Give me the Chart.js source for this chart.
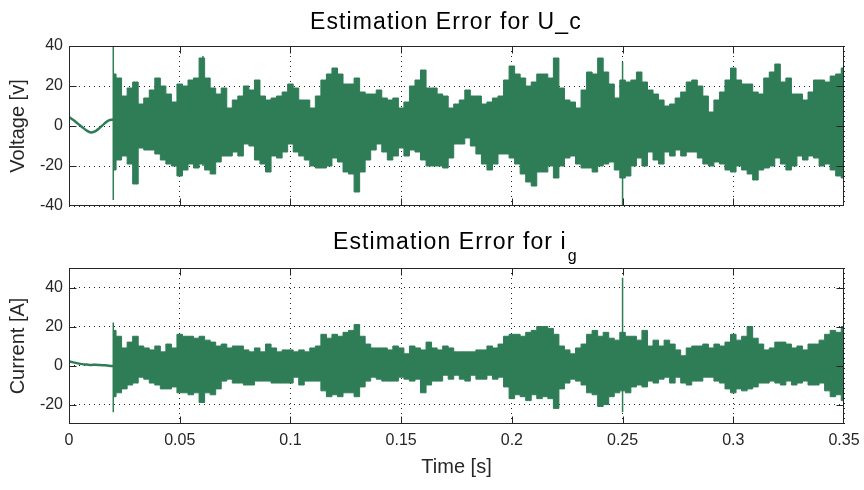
<!DOCTYPE html>
<html><head><meta charset="utf-8">
<script src="https://cdn.jsdelivr.net/npm/chart.js@4.4.1/dist/chart.umd.min.js"></script>
<style>
html,body{margin:0;padding:0;background:#fff;}
#wrap{position:relative;width:864px;height:490px;background:#fff;}
canvas{position:absolute;left:0;top:0;}
</style></head><body>
<div id="wrap"><canvas id="c1" width="864" height="490"></canvas><canvas id="c2" width="864" height="490"></canvas></div>
<script>
// ---------- data ----------
const xTicks = [0, 0.05, 0.1, 0.15, 0.2, 0.25, 0.3, 0.35];
const uTicks = [-40, -20, 0, 20, 40];
const iTicks = [-20, 0, 20, 40];

// envelope samples of the noisy part: start time and sample spacing (s)
const burstStart = 0.02;
const burstStep = 0.0025;

// U_c estimation error: upper / lower envelope
const uUpper = [26,24,15,19,22,11,14,18,24,20,
 16,12,21,20,23,24,34,24,19,16,
 19,9,13,15,20,18,23,15,13,14,
 15,17,21,19,13,13,9,15,23,26,
 29,26,21,21,24,17,16,16,18,14,
 13,14,9,12,20,23,28,19,19,16,
 15,9,11,13,18,15,15,11,12,14,
 15,23,30,26,24,20,22,26,26,24,
 34,19,13,12,9,18,27,26,34,27,
 21,14,23,22,23,27,22,18,16,13,
 10,11,14,17,22,23,20,15,7,13,
 17,23,29,23,21,21,17,16,24,27,
 31,22,24,16,16,13,17,23,23,22,
 25,26,29];
const uLower = [-22,-17,-15,-19,-29,-11,-12,-12,-14,-17,
 -19,-20,-25,-22,-19,-21,-19,-22,-24,-18,
 -15,-15,-13,-15,-9,-10,-17,-19,-23,-15,
 -16,-13,-9,-13,-15,-17,-20,-21,-21,-20,
 -16,-18,-23,-24,-33,-23,-17,-12,-9,-13,
 -17,-15,-11,-15,-12,-13,-17,-20,-20,-20,
 -21,-16,-9,-9,-6,-10,-14,-19,-22,-19,
 -14,-14,-16,-19,-24,-28,-30,-23,-23,-20,
 -26,-20,-16,-15,-19,-21,-21,-23,-20,-19,
 -18,-22,-26,-25,-20,-16,-20,-13,-17,-19,
 -13,-15,-12,-15,-13,-13,-16,-19,-20,-18,
 -19,-22,-23,-20,-22,-24,-27,-22,-21,-20,
 -16,-19,-22,-20,-15,-17,-15,-16,-20,-19,
 -22,-25,-26];
// smooth start (before the noise begins)
const uStartT = [0, 0.002, 0.004, 0.006, 0.008, 0.010, 0.012, 0.014, 0.016, 0.018, 0.02];
const uStartV = [4.5, 3, 1.2, -0.6, -2.3, -3.2, -2.6, -0.8, 1.2, 2.8, 3.2];
// isolated spikes
const uSpikeT = [0.02, 0.0605, 0.25];
const uSpikeHi = [40, 35, 32];
const uSpikeLo = [-37, -20, -40];

// i_g estimation error: upper / lower envelope
const iUpper = [18,15,9,12,15,10,9,8,10,7,
 11,9,16,15,15,14,15,13,12,10,
 11,9,10,10,8,7,9,7,11,9,
 7,8,8,7,8,7,9,10,16,14,
 16,15,17,18,21,15,11,9,9,9,
 8,10,9,6,10,9,8,12,9,8,
 10,9,7,7,7,7,8,8,10,9,
 11,15,16,16,15,17,18,20,20,19,
 16,10,8,6,9,11,16,18,15,17,
 14,13,17,15,15,13,18,10,13,10,
 13,11,8,5,9,10,10,11,9,11,
 10,12,16,13,15,20,14,11,8,9,
 12,12,11,9,10,8,11,11,13,16,
 18,17,20];
const iLower = [-16,-14,-12,-10,-9,-6,-7,-9,-10,-12,
 -12,-11,-14,-14,-15,-14,-19,-14,-15,-12,
 -8,-7,-9,-9,-10,-10,-8,-8,-8,-9,
 -9,-9,-9,-6,-10,-8,-8,-8,-13,-16,
 -15,-16,-14,-14,-16,-11,-8,-6,-7,-8,
 -8,-8,-6,-7,-8,-7,-14,-10,-8,-8,
 -5,-7,-5,-7,-8,-5,-7,-7,-5,-7,
 -6,-11,-17,-15,-16,-18,-15,-17,-16,-17,
 -22,-12,-9,-7,-8,-10,-14,-15,-21,-20,
 -16,-14,-13,-14,-11,-10,-11,-8,-9,-7,
 -6,-9,-6,-9,-10,-8,-8,-6,-6,-8,
 -9,-12,-14,-12,-13,-12,-11,-9,-9,-8,
 -9,-10,-8,-10,-9,-8,-10,-10,-9,-13,
 -16,-15,-18];
const iStartT = [0, 0.002, 0.004, 0.006, 0.008, 0.010, 0.012, 0.014, 0.016, 0.018, 0.02];
const iStartV = [2.2, 1.6, 1.1, 0.7, 0.5, 0.3, 0.4, 0.2, 0.1, -0.1, -0.3];
const iSpikeT = [0.02, 0.25];
const iSpikeHi = [22, 45];
const iSpikeLo = [-24, -24];

// ---------- styling ----------
const GREEN = '#2e7d57';
const FONT = '"Liberation Sans", Arial, Helvetica, sans-serif';
const TXT = '#262626';

function envPoints(vals){ return vals.map((v,k)=>({x: burstStart + k*burstStep, y: v})); }
function pairPoints(ts, vs){ return ts.map((t,k)=>({x:t, y:vs[k]})); }
function spikePoints(ts, hi, lo){
  const out=[]; ts.forEach((t,k)=>{ out.push({x:t,y:lo[k]},{x:t,y:hi[k]},{x:t,y:null}); }); return out;
}
function fmt(v){ return String(Math.round(v*100)/100); }

const framePlugin = {
  id: 'frame',
  afterDatasetsDraw(chart){
    const {ctx, chartArea:{left,right,top,bottom}, scales:{x,y}} = chart;
    const L=Math.round(left)+0.5, R=Math.round(right)-0.5, T=Math.round(top)+0.5, B=Math.round(bottom)-0.5;
    ctx.save();
    ctx.setLineDash([]);
    ctx.strokeStyle = '#262626';
    ctx.lineWidth = 1;
    const tl = 7;
    ctx.beginPath();
    x.ticks.forEach(t=>{ const px=Math.round(x.getPixelForValue(t.value))+0.5;
      if (px<=L+1||px>=R-1) return;
      ctx.moveTo(px,B); ctx.lineTo(px,B-tl); ctx.moveTo(px,T); ctx.lineTo(px,T+tl); });
    y.ticks.forEach(t=>{ const py=Math.round(y.getPixelForValue(t.value))+0.5;
      if (py<=T+1||py>=B-1) return;
      ctx.moveTo(L,py); ctx.lineTo(L+tl,py); ctx.moveTo(R,py); ctx.lineTo(R-tl,py); });
    ctx.stroke();
    ctx.strokeRect(L, T, R-L, B-T);
    ctx.restore();
  },
  afterDraw(chart, args, opts){
    if(!opts || !opts.text) return;
    const ctx = chart.ctx;
    ctx.save();
    ctx.fillStyle = '#000';
    ctx.textAlign = 'left';
    ctx.textBaseline = 'alphabetic';
    ctx.font = '23px ' + FONT;
    ctx.letterSpacing = '1.1px';
    ctx.fillText(opts.text, opts.x, opts.y);
    if (opts.sub){
      const w = ctx.measureText(opts.text).width;
      ctx.font = '16px ' + FONT;
      ctx.letterSpacing = '0px';
      ctx.fillText(opts.sub, opts.x + w + 1, opts.y + 12);
    }
    ctx.restore();
  }
};

function makeChart(id, cfg){
  const yTicks = cfg.yTicks;
  return new Chart(document.getElementById(id), {
    type: 'line',
    data: { datasets: [
      { data: envPoints(cfg.upper), borderColor: GREEN, backgroundColor: GREEN, borderWidth: 1, pointRadius: 0, fill: '+1', stepped: 'middle' },
      { data: envPoints(cfg.lower), borderColor: GREEN, backgroundColor: GREEN, borderWidth: 1, pointRadius: 0, fill: false, stepped: 'middle' },
      { data: pairPoints(cfg.startT, cfg.startV), borderColor: GREEN, borderWidth: 2.5, pointRadius: 0, fill: false, tension: 0.3 },
      { data: spikePoints(cfg.spikeT, cfg.spikeHi, cfg.spikeLo), borderColor: GREEN, borderWidth: 1.5, pointRadius: 0, fill: false, spanGaps: false }
    ]},
    options: {
      responsive: false, animation: false, devicePixelRatio: 1,
      layout: { autoPadding: false, padding: { left: 0, right: 20, top: cfg.padTop, bottom: 0 } },
      plugins: { legend: { display: false }, tooltip: { enabled: false }, title: { display: false },
        frame: cfg.title },
      scales: {
        x: { type: 'linear', min: 0, max: 0.35,
          afterBuildTicks: s => { s.ticks = xTicks.map(v=>({value:v})); },
          afterFit: s => { s.height = cfg.xHeight; s.paddingLeft = 0; s.paddingRight = 0; },
          grid: { color: '#222', lineWidth: 1, drawTicks: false },
          border: { display: false, dash: [1,4] },
          ticks: { display: cfg.xLabels, padding: 7, color: TXT, font: { family: FONT, size: 16 }, maxRotation: 0, callback: v => fmt(v) },
          title: { display: cfg.xLabels, text: 'Time [s]', color: TXT, font: { family: FONT, size: 20 }, padding: { top: 0, bottom: 11 } }
        },
        y: { type: 'linear', min: cfg.yMin, max: cfg.yMax,
          afterBuildTicks: s => { s.ticks = yTicks.map(v=>({value:v})); },
          afterFit: s => { s.width = 69; s.paddingTop = 0; s.paddingBottom = 0; },
          grid: { color: '#222', lineWidth: 1, drawTicks: false },
          border: { display: false, dash: [1,4] },
          ticks: { padding: 6, color: TXT, font: { family: FONT, size: 16 }, callback: v => fmt(v) },
          title: { display: true, text: cfg.yTitle, color: TXT, font: { family: FONT, size: 20 }, padding: { top: 6, bottom: 0 } }
        }
      }
    },
    plugins: [framePlugin]
  });
}

makeChart('c1', { upper: uUpper, lower: uLower, startT: uStartT, startV: uStartV,
  spikeT: uSpikeT, spikeHi: uSpikeHi, spikeLo: uSpikeLo,
  yTicks: uTicks, yMin: -40, yMax: 40, yTitle: 'Voltage [v]',
  padTop: 46, xHeight: 284, xLabels: false,
  title: { text: 'Estimation Error for U_c', x: 310, y: 28.5 } });

makeChart('c2', { upper: iUpper, lower: iLower, startT: iStartT, startV: iStartV,
  spikeT: iSpikeT, spikeHi: iSpikeHi, spikeLo: iSpikeLo,
  yTicks: iTicks, yMin: -30, yMax: 50, yTitle: 'Current [A]',
  padTop: 268, xHeight: 66, xLabels: true,
  title: { text: 'Estimation Error for i', sub: 'g', x: 333, y: 248.5 } });
</script>
</body></html>
